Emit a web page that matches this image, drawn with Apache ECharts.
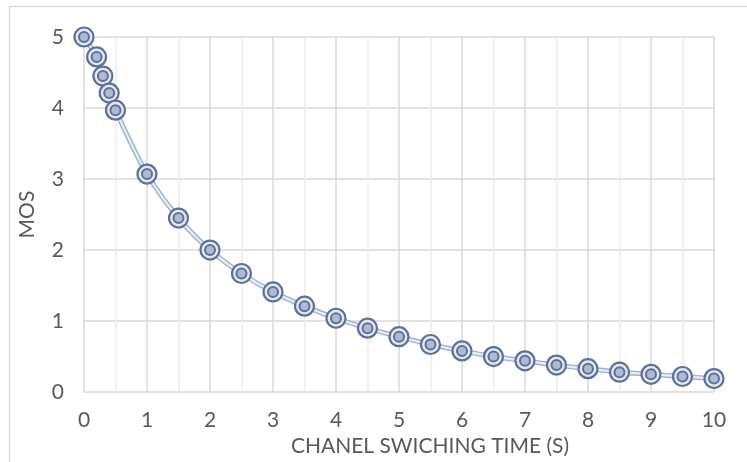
<!DOCTYPE html>
<html><head><meta charset="utf-8">
<script src="https://cdn.jsdelivr.net/npm/echarts@6/dist/echarts.min.js"></script>
<style>html,body{margin:0;padding:0;background:#fff}#c{width:747px;height:462px}</style>
</head><body><div id="c"></div>
<script>
var xValues = [0, 0.2, 0.3, 0.4, 0.5, 1, 1.5, 2, 2.5, 3, 3.5, 4, 4.5, 5, 5.5, 6, 6.5, 7, 7.5, 8, 8.5, 9, 9.5, 10];
var mosValues = [5.0, 4.72, 4.45, 4.21, 3.97, 3.07, 2.45, 2.0, 1.67, 1.41, 1.21, 1.04, 0.9, 0.78, 0.67, 0.58, 0.5, 0.44, 0.38, 0.33, 0.28, 0.25, 0.22, 0.19];
var xTitle = 'CHANEL SWICHING TIME (S)';
var yTitle = 'MOS';

var pts = xValues.map(function (x, i) { return [x, mosValues[i]]; });
var font = 'Lato, "Open Sans", sans-serif';
var chart = echarts.init(document.getElementById('c'));
chart.setOption({
  animation: false,
  backgroundColor: '#fff',
  graphic: [{
    type: 'rect', shape: { x: 9.5, y: 6.5, width: 760, height: 470 },
    style: { fill: 'none', stroke: '#d9d9d9', lineWidth: 1.5 }, silent: true
  }],
  grid: { left: 84, right: 33, top: 37, bottom: 66 },
  xAxis: {
    type: 'value', min: 0, max: 10, interval: 1,
    name: xTitle, nameLocation: 'middle', nameGap: 37,
    nameTextStyle: { fontFamily: font, fontSize: 21, color: '#595959', padding: [0, 0, 0, 62] },
    axisLine: { show: false }, axisTick: { show: false },
    axisLabel: { fontFamily: font, fontSize: 21, color: '#595959', margin: 18 },
    splitLine: { show: true, lineStyle: { color: '#d9d9d9', width: 1.5 } },
    minorTick: { show: false, splitNumber: 2 },
    minorSplitLine: { show: true, lineStyle: { color: '#ececec', width: 1.5 } }
  },
  yAxis: {
    type: 'value', min: 0, max: 5, interval: 1,
    name: yTitle, nameLocation: 'middle', nameGap: 46,
    nameTextStyle: { fontFamily: font, fontSize: 21, color: '#595959' },
    axisLine: { show: false }, axisTick: { show: false },
    axisLabel: { fontFamily: font, fontSize: 21, color: '#595959', margin: 20 },
    splitLine: { show: true, lineStyle: { color: '#d9d9d9', width: 1.5 } }
  },
  series: [
    {
      type: 'line', data: pts, smooth: 0.3,
      lineStyle: { color: '#9fb3d1', width: 5 },
      symbol: 'none', z: 2
    },
    {
      type: 'line', data: pts, smooth: 0.3,
      lineStyle: { color: '#e8eef6', width: 2.2 },
      symbol: 'circle', symbolSize: 19,
      itemStyle: { color: '#e3e8f0', borderColor: '#5b7199', borderWidth: 2.2 },
      z: 3
    },
    {
      type: 'scatter', data: pts,
      symbol: 'circle', symbolSize: 10,
      itemStyle: { color: '#aebbd0', borderColor: '#5b7199', borderWidth: 2, opacity: 1 },
      z: 4
    }
  ]
});
</script></body></html>
